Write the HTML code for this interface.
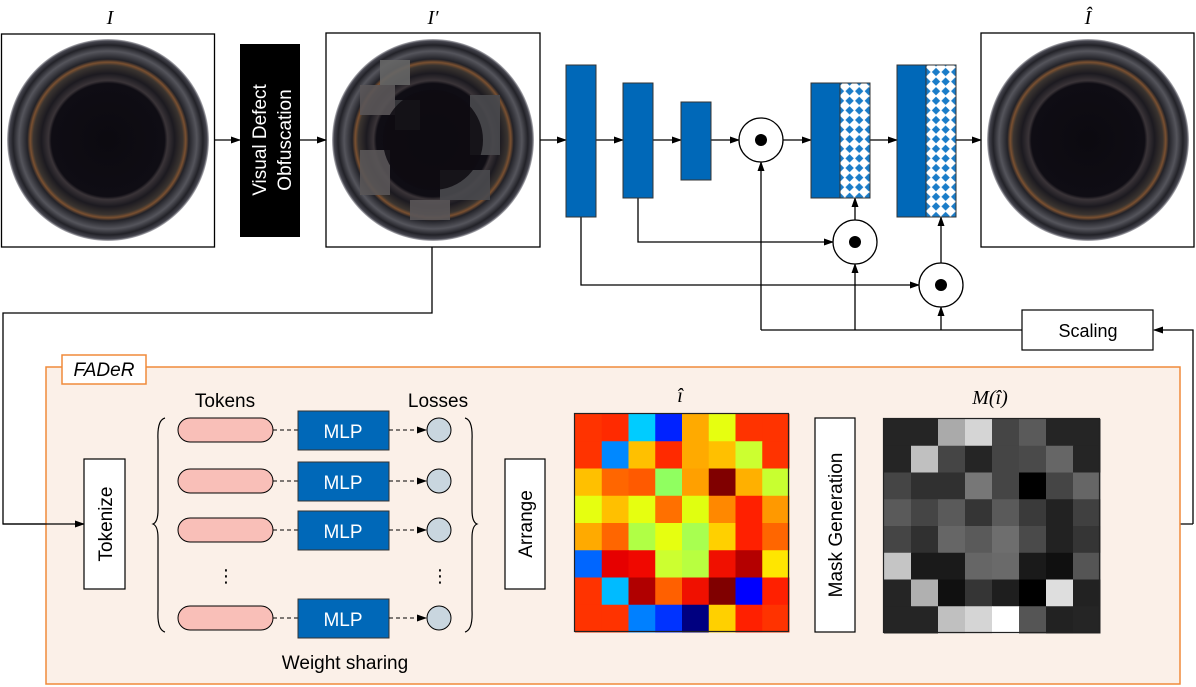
<!DOCTYPE html>
<html><head><meta charset="utf-8"><style>
html,body{margin:0;padding:0;background:#fff}
svg{display:block;font-family:"Liberation Sans","DejaVu Sans",sans-serif}
</style></head><body>
<svg width="1196" height="687" viewBox="0 0 1196 687" xmlns="http://www.w3.org/2000/svg">
<defs>
<marker id="a" markerWidth="10" markerHeight="8" refX="9" refY="4" orient="auto" markerUnits="userSpaceOnUse"><path d="M0,0.5 L10,4 L0,7.5 z" fill="#000"/></marker>
<pattern id="dots" width="9.6" height="9.6" patternUnits="userSpaceOnUse"><rect width="9.6" height="9.6" fill="#fff"/><path d="M4.8,0.6 L9,4.8 L4.8,9 L0.6,4.8z" fill="#1a7cc8"/></pattern>
<radialGradient id="ring" cx="50%" cy="50%" r="50%">
<stop offset="0" stop-color="#0c0a10"/><stop offset="0.56" stop-color="#0f0d14"/><stop offset="0.59" stop-color="#3a3438"/><stop offset="0.66" stop-color="#1c1a20"/><stop offset="0.74" stop-color="#3a3430"/><stop offset="0.77" stop-color="#7a5030"/><stop offset="0.8" stop-color="#222228"/><stop offset="0.88" stop-color="#55555c"/><stop offset="0.94" stop-color="#222228"/><stop offset="0.98" stop-color="#45454e"/><stop offset="1" stop-color="#bbbbc0"/>
</radialGradient>
</defs>
<g stroke="#000" stroke-width="1.3" fill="none">
<rect x="1.5" y="34" width="213" height="213" fill="#fff"/>
<rect x="326" y="33" width="214" height="214" fill="#fff"/>
<rect x="981" y="33" width="213" height="214" fill="#fff"/>
</g>
<circle cx="108" cy="140" r="101" fill="url(#ring)"/>
<circle cx="433" cy="140" r="101" fill="url(#ring)"/>
<g fill="#5a5658" opacity="0.9">
<rect x="360" y="85" width="35" height="30"/><rect x="395" y="100" width="25" height="30" fill="#3a3a3e"/><rect x="360" y="150" width="30" height="45"/><rect x="440" y="170" width="50" height="30" fill="#4a4a4e"/><rect x="470" y="95" width="30" height="60" fill="#4a4a4e"/><rect x="410" y="200" width="40" height="20"/><rect x="380" y="60" width="30" height="25" fill="#666"/>
</g>
<circle cx="433" cy="140" r="50" fill="#0e0c12" opacity="0.85"/>
<circle cx="1088" cy="140" r="101" fill="url(#ring)"/>
<rect x="240" y="44" width="60" height="193" fill="#000"/>
<text transform="translate(266,140) rotate(-90)" text-anchor="middle" font-size="19" fill="#fff">Visual Defect</text>
<text transform="translate(291,140) rotate(-90)" text-anchor="middle" font-size="19" fill="#fff">Obfuscation</text>
<g font-family="Liberation Serif,serif" font-style="italic" font-size="20" text-anchor="middle">
<text x="110" y="24">I</text><text x="433" y="24">I′</text><text x="1088" y="24">Î</text>
</g>
<g stroke="#000" stroke-width="1.3" fill="none" marker-end="url(#a)">
<line x1="215" y1="140" x2="240" y2="140"/>
<line x1="300" y1="140" x2="326" y2="140"/>
<line x1="540" y1="140" x2="566" y2="140"/>
<line x1="596" y1="140" x2="623" y2="140"/>
<line x1="653" y1="140" x2="681" y2="140"/>
<line x1="711" y1="140" x2="739" y2="140"/>
<line x1="783" y1="140" x2="811" y2="140"/>
<line x1="870" y1="140" x2="897" y2="140"/>
<line x1="956" y1="140" x2="981" y2="140"/>
<polyline points="638,198 638,242 833,242"/>
<polyline points="581,217 581,285 919,285"/>
<line x1="855" y1="220" x2="855" y2="198"/>
<line x1="941" y1="263" x2="941" y2="217"/>
<line x1="761" y1="330" x2="761" y2="162"/>
<line x1="855" y1="330" x2="855" y2="264"/>
<line x1="941" y1="330" x2="941" y2="307"/>
<polyline points="1193,524 1193,330 1154,330"/>
<polyline points="432,247 432,313 3,313 3,524 84,524"/>
<line x1="125" y1="524" x2="152" y2="524"/>
<line x1="477" y1="524" x2="505" y2="524"/>
<line x1="788" y1="524" x2="815" y2="524"/>
<line x1="855" y1="524" x2="884" y2="524"/>
</g>
<line x1="761" y1="330" x2="1022" y2="330" stroke="#000" stroke-width="1.3"/>
<line x1="1099" y1="524" x2="1193" y2="524" stroke="#000" stroke-width="1.3"/>
<g fill="#0068b8" stroke="#333" stroke-width="1">
<rect x="566" y="65" width="30" height="152"/>
<rect x="623" y="83" width="30" height="115"/>
<rect x="681" y="102" width="30" height="78"/>
<rect x="811" y="83" width="29" height="115"/>
<rect x="897" y="65" width="29" height="152"/>
</g>
<rect x="840" y="83" width="30" height="115" fill="url(#dots)" stroke="#333"/>
<rect x="926" y="65" width="30" height="152" fill="url(#dots)" stroke="#333"/>
<g stroke="#000" stroke-width="1.3" fill="#fff">
<circle cx="761" cy="140" r="22"/><circle cx="855" cy="242" r="22"/><circle cx="941" cy="285" r="22"/>
</g>
<g fill="#000"><circle cx="761" cy="140" r="6"/><circle cx="855" cy="242" r="6"/><circle cx="941" cy="285" r="6"/></g>
<rect x="1022" y="310" width="131" height="40" fill="#fff" stroke="#000" stroke-width="1.2"/>
<text x="1088" y="337" text-anchor="middle" font-size="18">Scaling</text>
<rect x="46" y="367" width="1134" height="317" fill="#fbf0e8" stroke="#f08a3a" stroke-width="1.5"/>
<rect x="62" y="355" width="84" height="29" fill="#fff" stroke="#f08a3a" stroke-width="1.5"/>
<text x="104" y="376" text-anchor="middle" font-size="19" font-style="italic">FADeR</text>
<line x1="3" y1="524" x2="84" y2="524" stroke="#000" stroke-width="1.3" marker-end="url(#a)"/>
<g fill="#fff" stroke="#000" stroke-width="1.2">
<rect x="84" y="459" width="41" height="130"/><rect x="505" y="459" width="40" height="130"/><rect x="815" y="418" width="40" height="214"/>
</g>
<text transform="translate(112,524) rotate(-90)" text-anchor="middle" font-size="19">Tokenize</text>
<text transform="translate(532,524) rotate(-90)" text-anchor="middle" font-size="19">Arrange</text>
<text transform="translate(842,525) rotate(-90)" text-anchor="middle" font-size="19">Mask Generation</text>
<path d="M165,418 Q157,420 158,440 L158,510 Q158,522 153,524 Q158,526 158,538 L158,610 Q157,630 165,632" fill="none" stroke="#000" stroke-width="1.2"/>
<path d="M465,418 Q473,420 472,440 L472,510 Q472,522 477,524 Q472,526 472,538 L472,610 Q473,630 465,632" fill="none" stroke="#000" stroke-width="1.2"/>
<text x="225" y="407" text-anchor="middle" font-size="19">Tokens</text>
<text x="438" y="407" text-anchor="middle" font-size="19">Losses</text>
<text x="345" y="669" text-anchor="middle" font-size="19">Weight sharing</text>
<g font-size="18" fill="#000" text-anchor="middle"><text x="226" y="582">⋮</text><text x="440" y="582">⋮</text></g>
<g>
<g transform="translate(0,430)"><rect x="178" y="-12" width="95" height="24" rx="12" fill="#f9bfb8" stroke="#000"/><line x1="273" y1="0" x2="298" y2="0" stroke="#000" stroke-dasharray="4,3"/><rect x="298" y="-19" width="91" height="39" fill="#0068b8" stroke="#333"/><text x="343" y="8" text-anchor="middle" font-size="19" fill="#fff">MLP</text><line x1="389" y1="0" x2="426" y2="0" stroke="#000" stroke-dasharray="4,3" marker-end="url(#a)"/><circle cx="439" cy="0" r="12" fill="#c9d6df" stroke="#000"/></g>
<g transform="translate(0,481)"><rect x="178" y="-12" width="95" height="24" rx="12" fill="#f9bfb8" stroke="#000"/><line x1="273" y1="0" x2="298" y2="0" stroke="#000" stroke-dasharray="4,3"/><rect x="298" y="-19" width="91" height="39" fill="#0068b8" stroke="#333"/><text x="343" y="8" text-anchor="middle" font-size="19" fill="#fff">MLP</text><line x1="389" y1="0" x2="426" y2="0" stroke="#000" stroke-dasharray="4,3" marker-end="url(#a)"/><circle cx="439" cy="0" r="12" fill="#c9d6df" stroke="#000"/></g>
<g transform="translate(0,530)"><rect x="178" y="-12" width="95" height="24" rx="12" fill="#f9bfb8" stroke="#000"/><line x1="273" y1="0" x2="298" y2="0" stroke="#000" stroke-dasharray="4,3"/><rect x="298" y="-19" width="91" height="39" fill="#0068b8" stroke="#333"/><text x="343" y="8" text-anchor="middle" font-size="19" fill="#fff">MLP</text><line x1="389" y1="0" x2="426" y2="0" stroke="#000" stroke-dasharray="4,3" marker-end="url(#a)"/><circle cx="439" cy="0" r="12" fill="#c9d6df" stroke="#000"/></g>
<g transform="translate(0,618)"><rect x="178" y="-12" width="95" height="24" rx="12" fill="#f9bfb8" stroke="#000"/><line x1="273" y1="0" x2="298" y2="0" stroke="#000" stroke-dasharray="4,3"/><rect x="298" y="-19" width="91" height="39" fill="#0068b8" stroke="#333"/><text x="343" y="8" text-anchor="middle" font-size="19" fill="#fff">MLP</text><line x1="389" y1="0" x2="426" y2="0" stroke="#000" stroke-dasharray="4,3" marker-end="url(#a)"/><circle cx="439" cy="0" r="12" fill="#c9d6df" stroke="#000"/></g>
</g>
<g font-family="Liberation Serif,serif" font-style="italic" font-size="20" text-anchor="middle">
<text x="680" y="402">î</text><text x="990" y="404">M(î)</text>
</g>
<g transform="translate(575,414)"><g id="hm"></g></g>
<g transform="translate(884,419)"><g id="gm"></g></g>
<rect x="574.5" y="413.5" width="214" height="218" fill="none" stroke="#222" stroke-width="1.2"/>
<rect x="883.5" y="418.5" width="216" height="214" fill="none" stroke="#222" stroke-width="1.2"/>
<script>
var H=[["#FF3300","#FF2A00","#00CCFF","#0022FF","#FFAA00","#E6FF10","#FF3300","#FF3300"],
["#FF3300","#0088FF","#FFC000","#FF2A00","#FFAA00","#FFC000","#CCFF30","#FF3300"],
["#FFC000","#FF6600","#FF5A00","#90FF60","#FFA000","#800000","#FFB000","#C8FF30"],
["#E6FF10","#FFC000","#E6FF10","#FF7000","#E0FF10","#FF8800","#FF2000","#FF9900"],
["#FFAA00","#FF6600","#B0FF45","#E6FF10","#A8FF50","#FFD000","#FF2000","#FF6600"],
["#0066FF","#E60000","#F00800","#CCFF30","#B8FF40","#F01000","#B40000","#FFE600"],
["#FF3300","#00BBFF","#B00000","#FF6000","#F01000","#800000","#0000FF","#FF2000"],
["#FF3300","#FF3300","#0080FF","#0033FF","#000080","#FFD000","#FF2000","#FF3300"]];
var G=[["252525","252525","aaaaaa","d5d5d5","454545","5a5a5a","252525","252525"],
["252525","c0c0c0","454545","252525","454545","4a4a4a","666666","252525"],
["454545","303030","303030","777777","454545","000000","454545","666666"],
["5a5a5a","454545","5a5a5a","353535","5a5a5a","3a3a3a","222222","404040"],
["454545","303030","666666","5a5a5a","6e6e6e","4a4a4a","222222","353535"],
["c5c5c5","1a1a1a","1a1a1a","666666","6a6a6a","1a1a1a","101010","555555"],
["252525","b0b0b0","101010","353535","1e1e1e","000000","dedede","222222"],
["252525","252525","c0c0c0","d5d5d5","ffffff","555555","222222","252525"]];
var ns="http://www.w3.org/2000/svg";
function draw(id,M,w,h,pre){var g=document.getElementById(id);for(var r=0;r<8;r++)for(var c=0;c<8;c++){var e=document.createElementNS(ns,"rect");e.setAttribute("x",c*w);e.setAttribute("y",r*h);e.setAttribute("width",w+0.5);e.setAttribute("height",h+0.5);e.setAttribute("fill",pre+M[r][c]);g.appendChild(e);}}
draw("hm",H,26.75,27.25,"");draw("gm",G,27,26.75,"#");
</script>
</svg>
</body></html>
